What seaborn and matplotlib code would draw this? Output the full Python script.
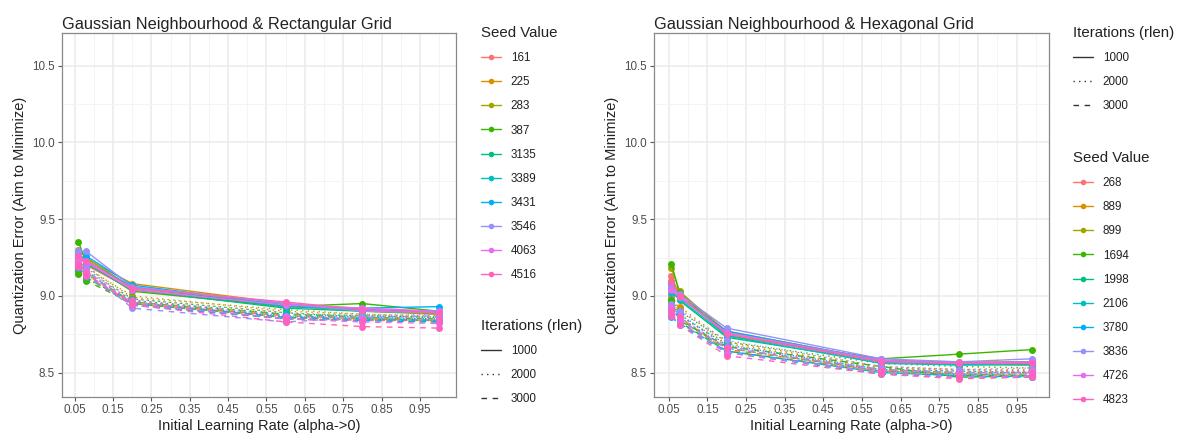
import numpy as np
import pandas as pd
import matplotlib
matplotlib.use("Agg")
import matplotlib.pyplot as plt
from matplotlib.lines import Line2D
import seaborn as sns

# ---------------- data ----------------
rect_x = [0.06, 0.08, 0.2, 0.6, 0.8, 1.0]
hex_x = [0.057, 0.078, 0.2, 0.6, 0.8, 0.99]
rlen_levels = [1000, 2000, 3000]

rect_seeds = [161, 225, 283, 387, 3135, 3389, 3431, 3546, 4063, 4516]
hex_seeds = [268, 889, 899, 1694, 1998, 2106, 3780, 3836, 4726, 4823]

rect_1000 = [
    [9.18, 9.20, 9.04, 8.93, 8.91, 8.89],
    [9.27, 9.24, 9.08, 8.95, 8.91, 8.88],
    [9.30, 9.25, 9.05, 8.94, 8.90, 8.88],
    [9.35, 9.22, 9.03, 8.93, 8.95, 8.90],
    [9.28, 9.21, 9.04, 8.92, 8.90, 8.89],
    [9.25, 9.23, 9.06, 8.93, 8.91, 8.90],
    [9.22, 9.26, 9.07, 8.94, 8.92, 8.93],
    [9.29, 9.29, 9.06, 8.95, 8.90, 8.89],
    [9.24, 9.22, 9.04, 8.94, 8.92, 8.90],
    [9.26, 9.23, 9.05, 8.96, 8.91, 8.89],
]
rect_2000 = [
    [9.20, 9.16, 8.98, 8.89, 8.87, 8.86],
    [9.23, 9.18, 9.00, 8.90, 8.88, 8.87],
    [9.26, 9.19, 8.99, 8.91, 8.88, 8.86],
    [9.14, 9.11, 8.97, 8.88, 8.87, 8.86],
    [9.24, 9.17, 8.98, 8.89, 8.86, 8.85],
    [9.21, 9.15, 8.97, 8.88, 8.87, 8.86],
    [9.19, 9.14, 8.96, 8.87, 8.86, 8.85],
    [9.27, 9.20, 8.94, 8.86, 8.87, 8.88],
    [9.22, 9.16, 8.97, 8.87, 8.85, 8.85],
    [9.21, 9.15, 8.96, 8.85, 8.84, 8.84],
]
rect_3000 = [
    [9.17, 9.12, 8.96, 8.86, 8.84, 8.84],
    [9.22, 9.14, 8.95, 8.87, 8.85, 8.84],
    [9.24, 9.15, 8.96, 8.88, 8.86, 8.85],
    [9.16, 9.10, 8.95, 8.86, 8.85, 8.84],
    [9.20, 9.13, 8.94, 8.85, 8.84, 8.83],
    [9.18, 9.12, 8.95, 8.86, 8.85, 8.84],
    [9.19, 9.13, 8.94, 8.85, 8.84, 8.83],
    [9.25, 9.17, 8.92, 8.83, 8.86, 8.87],
    [9.21, 9.14, 8.95, 8.85, 8.83, 8.82],
    [9.19, 9.13, 8.94, 8.83, 8.80, 8.79],
]

hex_1000 = [
    [9.13, 9.00, 8.75, 8.57, 8.56, 8.55],
    [9.10, 9.02, 8.77, 8.58, 8.57, 8.57],
    [9.18, 9.03, 8.76, 8.57, 8.56, 8.56],
    [9.21, 9.02, 8.74, 8.59, 8.62, 8.65],
    [9.05, 8.97, 8.73, 8.57, 8.55, 8.55],
    [9.02, 8.98, 8.74, 8.56, 8.55, 8.56],
    [9.08, 8.99, 8.77, 8.58, 8.56, 8.57],
    [9.06, 9.01, 8.79, 8.59, 8.57, 8.59],
    [9.04, 8.99, 8.76, 8.58, 8.56, 8.57],
    [9.09, 9.00, 8.75, 8.57, 8.56, 8.56],
]
hex_2000 = [
    [9.00, 8.92, 8.68, 8.53, 8.52, 8.51],
    [8.96, 8.93, 8.70, 8.54, 8.52, 8.52],
    [8.98, 8.87, 8.69, 8.53, 8.51, 8.51],
    [8.97, 8.90, 8.70, 8.56, 8.54, 8.53],
    [8.94, 8.88, 8.67, 8.52, 8.50, 8.50],
    [8.90, 8.86, 8.66, 8.51, 8.49, 8.49],
    [8.92, 8.88, 8.68, 8.52, 8.51, 8.50],
    [8.95, 8.90, 8.71, 8.54, 8.52, 8.53],
    [8.93, 8.87, 8.67, 8.52, 8.50, 8.51],
    [8.91, 8.86, 8.66, 8.51, 8.49, 8.50],
]
hex_3000 = [
    [8.94, 8.86, 8.64, 8.51, 8.49, 8.49],
    [8.92, 8.85, 8.65, 8.52, 8.50, 8.50],
    [8.89, 8.82, 8.66, 8.51, 8.49, 8.48],
    [8.95, 8.84, 8.67, 8.54, 8.47, 8.48],
    [8.91, 8.83, 8.64, 8.50, 8.48, 8.48],
    [8.87, 8.81, 8.63, 8.49, 8.47, 8.47],
    [8.86, 8.82, 8.64, 8.50, 8.48, 8.47],
    [8.90, 8.84, 8.66, 8.52, 8.50, 8.50],
    [8.88, 8.83, 8.63, 8.50, 8.47, 8.48],
    [8.87, 8.81, 8.61, 8.49, 8.46, 8.47],
]

x_ticks = [0.05, 0.15, 0.25, 0.35, 0.45, 0.55, 0.65, 0.75, 0.85, 0.95]
y_ticks = [8.5, 9.0, 9.5, 10.0, 10.5]

# ---------------- styling ----------------
palette = ["#F8766D", "#D89000", "#A3A500", "#39B600", "#00BF7D",
           "#00BFC4", "#00B0F6", "#9590FF", "#E76BF3", "#FF62BC"]
dash_map = {1000: "", 2000: (1, 3), 3000: (4, 4)}

sns.set_theme(style="white")
plt.rcParams["font.family"] = ["Liberation Sans", "DejaVu Sans"]


def build_df(xs, seeds, blocks):
    rows = []
    for rl, block in zip(rlen_levels, blocks):
        for s, vals in zip(seeds, block):
            for x, v in zip(xs, vals):
                rows.append({"alpha": x, "qe": v, "seed": str(s), "rlen": rl})
    return pd.DataFrame(rows)


df_rect = build_df(rect_x, rect_seeds, [rect_1000, rect_2000, rect_3000])
df_hex = build_df(hex_x, hex_seeds, [hex_1000, hex_2000, hex_3000])

W, H = 1189, 442
fig = plt.figure(figsize=(W / 100, H / 100), dpi=100)

TOP, BOT = 33, 397
ax1 = fig.add_axes([62 / W, 1 - BOT / H, (456 - 62) / W, (BOT - TOP) / H])
ax2 = fig.add_axes([654 / W, 1 - BOT / H, (1049 - 654) / W, (BOT - TOP) / H])

tick_col = "#4D4D4D"
grid_col = "#EBEBEB"


def draw(ax, df, seeds, title, xlim):
    pal = dict(zip([str(s) for s in seeds], palette))
    sns.lineplot(data=df, x="alpha", y="qe", hue="seed", style="rlen",
                 hue_order=[str(s) for s in seeds], style_order=rlen_levels,
                 palette=pal, dashes=dash_map, markers=["o", "o", "o"],
                 markersize=5, markeredgewidth=0, linewidth=1.0,
                 estimator=None, legend=False, ax=ax)
    ax.set_xlim(*xlim)
    ax.set_ylim(8.341, 10.713)
    ax.set_xticks(x_ticks)
    ax.set_xticklabels([f"{t:.2f}" for t in x_ticks])
    ax.set_yticks(y_ticks)
    ax.set_yticklabels([f"{t:.1f}" for t in y_ticks])
    ax.set_xticks([0.1, 0.2, 0.3, 0.4, 0.5, 0.6, 0.7, 0.8, 0.9, 1.0], minor=True)
    ax.set_yticks([8.75, 9.25, 9.75, 10.25], minor=True)
    ax.grid(True, which="major", color=grid_col, linewidth=1.1)
    ax.grid(True, which="minor", color="#F3F3F3", linewidth=0.6)
    ax.set_axisbelow(True)
    ax.tick_params(which="major", direction="out", length=3, width=0.8,
                   color="#555555", labelsize=8.4, labelcolor=tick_col, pad=2,
                   bottom=True, left=True)
    ax.tick_params(which="minor", length=0)
    for sp in ax.spines.values():
        sp.set_color("#888888")
        sp.set_linewidth(0.9)
    ax.set_xlabel("Initial Learning Rate (alpha->0)", fontsize=10.5, color="#222222", labelpad=2)
    ax.set_ylabel("Quantization Error (Aim to Minimize)", fontsize=10.5, color="#222222", labelpad=4)
    ax.set_title(title, fontsize=11.8, loc="left", color="#222222", pad=3)


draw(ax1, df_rect, rect_seeds, "Gaussian Neighbourhood & Rectangular Grid", (0.017, 1.044))
draw(ax2, df_hex, hex_seeds, "Gaussian Neighbourhood & Hexagonal Grid", (0.012, 1.034))


def seed_handles(seeds):
    return [Line2D([], [], color=c, marker="o", markersize=4, markeredgewidth=0,
                   linewidth=1.0) for c in palette[:len(seeds)]]


def rlen_handles():
    return [Line2D([], [], color="#333333", linewidth=1.0, linestyle="-"),
            Line2D([], [], color="#333333", linewidth=1.0, dashes=(1, 3)),
            Line2D([], [], color="#333333", linewidth=1.0, dashes=(4, 4))]


leg_kw = dict(frameon=False, loc="upper left", fontsize=8.4, title_fontsize=10.8,
              handlelength=1.7, handletextpad=0.85, labelspacing=1.04,
              borderpad=0, borderaxespad=0, alignment="left")


def add_leg(handles, labels, title, x_px, y_px):
    lg = fig.legend(handles, labels, title=title,
                    bbox_to_anchor=(x_px / W, 1 - y_px / H), **leg_kw)
    lg.get_title().set_color("#222222")
    for t in lg.get_texts():
        t.set_color("#222222")
    return lg


add_leg(seed_handles(rect_seeds), [str(s) for s in rect_seeds], "Seed Value", 481, 26)
add_leg(rlen_handles(), [str(r) for r in rlen_levels], "Iterations (rlen)", 481, 319)
add_leg(rlen_handles(), [str(r) for r in rlen_levels], "Iterations (rlen)", 1073, 26)
add_leg(seed_handles(hex_seeds), [str(s) for s in hex_seeds], "Seed Value", 1073, 151)

fig.savefig("out.png", dpi=100)
